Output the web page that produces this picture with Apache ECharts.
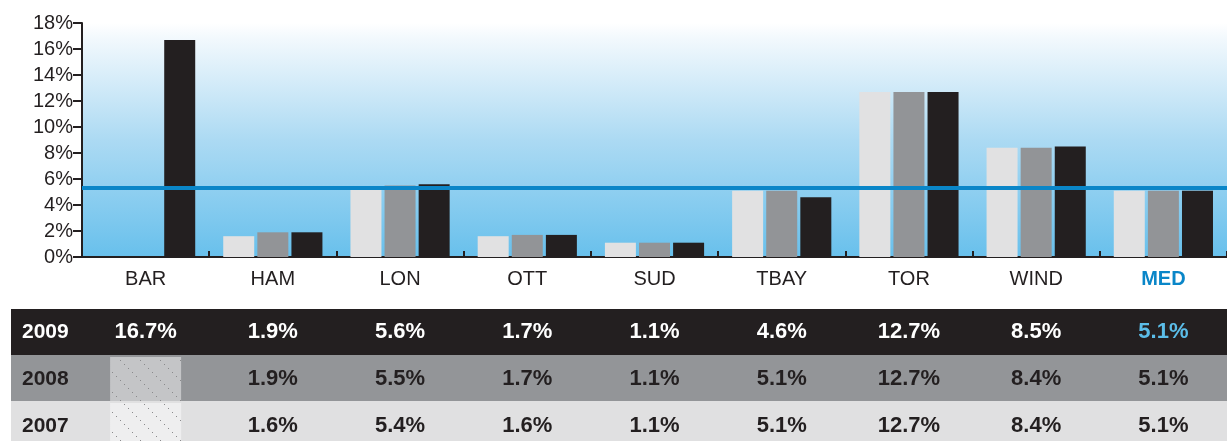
<!DOCTYPE html>
<html>
<head>
<meta charset="utf-8">
<script src="https://cdn.jsdelivr.net/npm/echarts@6/dist/echarts.min.js"></script>
<style>
  body { margin: 0; background: #fff; }
  #chart { width: 1227px; height: 441px; }
</style>
</head>
<body>
<div id="chart"></div>
<script>
// data
const categories = ['BAR', 'HAM', 'LON', 'OTT', 'SUD', 'TBAY', 'TOR', 'WIND', 'MED']
const years = ['2009', '2008', '2007']
const values2009 = [16.7, 1.9, 5.6, 1.7, 1.1, 4.6, 12.7, 8.5, 5.1]
const values2008 = [null, 1.9, 5.5, 1.7, 1.1, 5.1, 12.7, 8.4, 5.1]
const values2007 = [null, 1.6, 5.4, 1.6, 1.1, 5.1, 12.7, 8.4, 5.1]
const medianLine = 5.3

const dark = '#231f20'
const blue = '#0a86c8'
const font = '"Liberation Sans", Arial, sans-serif'

const chart = echarts.init(document.getElementById('chart'))

function bar (name, data, color) {
  return {
    name: name,
    type: 'bar',
    data: data,
    barWidth: 31,
    barGap: '10%',
    itemStyle: {color: color},
    animation: false
  }
}

const option = {
  animation: false,
  grid: {
    left: 82,
    right: 0,
    top: 23,
    bottom: 184,
    show: true,
    borderWidth: 0,
    backgroundColor: new echarts.graphic.LinearGradient(0, 0, 0, 1, [
      {offset: 0, color: '#ffffff'},
      {offset: 0.06, color: '#f3f9fd'},
      {offset: 0.5, color: '#acdaf3'},
      {offset: 1, color: '#68c0ec'}
    ])
  },
  xAxis: {
    type: 'category',
    data: categories,
    axisLine: {lineStyle: {color: dark, width: 2}},
    axisTick: {show: true, inside: true, length: 6, interval: 0, lineStyle: {color: dark, width: 2}},
    axisLabel: {
      interval: 0,
      margin: 12,
      fontSize: 20,
      fontFamily: font,
      color: dark,
      formatter: (v) => v === 'MED' ? '{med|' + v + '}' : v,
      rich: {
        med: {fontSize: 20, fontFamily: font, fontWeight: 'bold', color: blue}
      }
    }
  },
  yAxis: {
    type: 'value',
    min: 0,
    max: 18,
    interval: 2,
    splitLine: {show: false},
    axisLine: {show: true, lineStyle: {color: dark, width: 2}},
    axisTick: {show: true, length: 9, lineStyle: {color: dark, width: 2}},
    axisLabel: {margin: 9, fontSize: 20, fontFamily: font, color: dark, formatter: '{value}%'}
  },
  series: [
    bar('2007', values2007, '#e1e1e2'),
    bar('2008', values2008, '#929497'),
    Object.assign(bar('2009', values2009, dark), {
      markLine: {
        silent: true,
        symbol: 'none',
        label: {show: false},
        lineStyle: {color: blue, width: 4, type: 'solid'},
        data: [{yAxis: medianLine}]
      }
    })
  ]
}
chart.setOption(option)

// hatch pattern for the empty cells
function hatch (bg) {
  const c = document.createElement('canvas')
  c.width = 20
  c.height = 20
  const ctx = c.getContext('2d')
  ctx.fillStyle = bg
  ctx.fillRect(0, 0, 20, 20)
  ctx.fillStyle = '#8a8a8c'
  for (let i = 0; i < 20; i += 4) {
    ctx.fillRect(i, i, 1, 1)
  }
  return {image: c, repeat: 'repeat'}
}

// table under the chart
const rows = [
  {year: years[0], data: values2009, y: 309, h: 46, bg: dark, text: '#ffffff', medText: '#5bbde8', textY: 332, cell: null},
  {year: years[1], data: values2008, y: 355, h: 46, bg: '#939598', text: dark, medText: dark, textY: 379, cell: '#c4c5c7'},
  {year: years[2], data: values2007, y: 401, h: 40, bg: '#e0e0e1', text: dark, medText: dark, textY: 426, cell: '#eeeeef'}
]
const graphic = []
rows.forEach((r) => {
  graphic.push({type: 'rect', shape: {x: 11, y: r.y, width: 1216, height: r.h}, style: {fill: r.bg}, silent: true})
  graphic.push({
    type: 'text', x: 22, y: r.textY,
    style: {text: r.year, fill: r.text, font: 'bold 21px ' + font, verticalAlign: 'middle'}
  })
  r.data.forEach((v, i) => {
    const cx = chart.convertToPixel({xAxisIndex: 0}, categories[i])
    if (v === null) {
      graphic.push({
        type: 'rect',
        shape: {x: cx - 35.5, y: r.y + 2, width: 71, height: r.h - 2},
        style: {fill: hatch(r.cell)},
        silent: true
      })
      return
    }
    graphic.push({
      type: 'text', x: cx, y: r.textY,
      style: {
        text: v.toFixed(1) + '%',
        fill: categories[i] === 'MED' ? r.medText : r.text,
        font: 'bold 22px ' + font,
        align: 'center',
        verticalAlign: 'middle'
      }
    })
  })
})
chart.setOption({graphic: graphic})
</script>
</body>
</html>
